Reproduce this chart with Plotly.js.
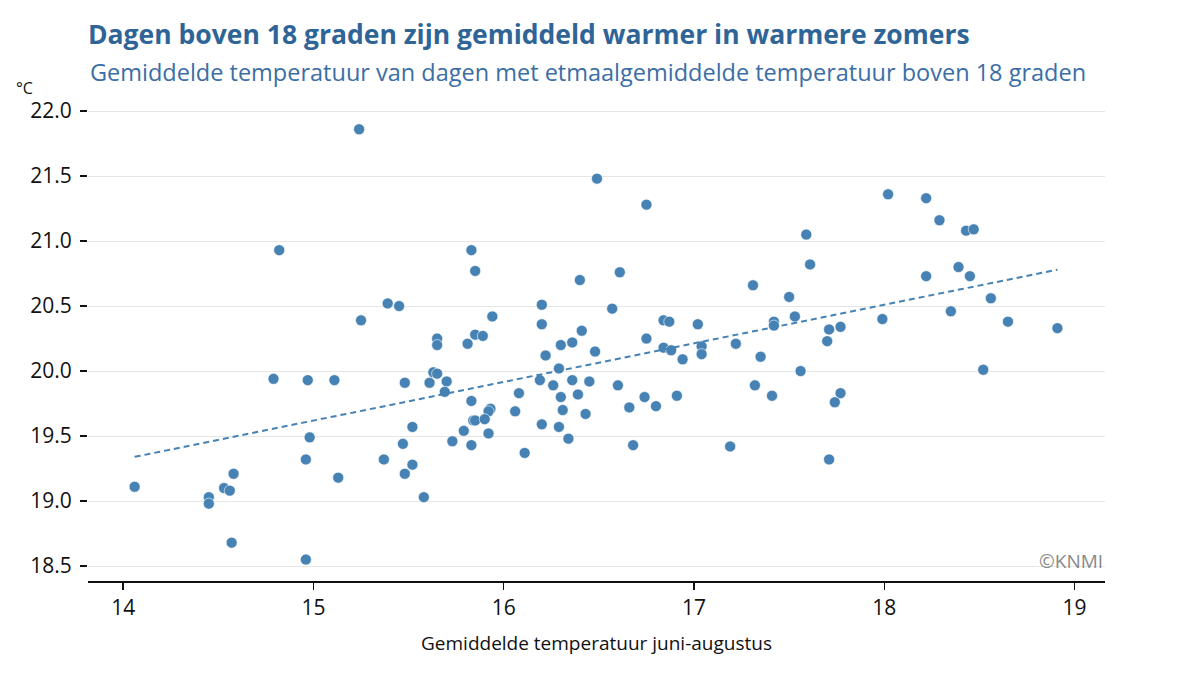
<!DOCTYPE html>
<html>
<head>
<meta charset="utf-8">
<script src="https://cdn.plot.ly/plotly-3.0.1.min.js"></script>
<style>
  html, body { margin: 0; padding: 0; background: #fff; }
  #chart { width: 1200px; height: 675px; }
</style>
</head>
<body>
<div id="chart"></div>
<script>
// gemiddelde temperatuur juni-augustus (x) en gemiddelde temperatuur van dagen boven 18 graden (y)
var zomerTemp = [
  14.06, 14.45, 14.45, 14.53, 14.56, 14.58, 14.57, 14.82, 14.79, 14.97,
  14.98, 14.96, 14.96, 15.11, 15.13, 15.25, 15.24, 15.83, 15.85, 15.39,
  15.45, 15.94, 15.65, 15.65, 15.81, 15.85, 15.89, 15.48, 15.61, 15.63,
  15.65, 15.70, 15.69, 15.83, 15.93, 15.92, 15.84, 15.85, 15.90, 16.06,
  16.08, 15.52, 15.47, 15.37, 15.52, 15.48, 15.73, 15.79, 15.83, 15.92,
  16.11, 15.58, 16.20, 16.20, 16.40, 16.57, 16.41, 16.30, 16.36, 16.48,
  16.22, 16.29, 16.19, 16.26, 16.36, 16.45, 16.60, 16.30, 16.39, 16.31,
  16.43, 16.20, 16.29, 16.34, 16.49, 16.61, 16.75, 17.59, 17.61, 17.31,
  17.50, 16.84, 16.87, 17.02, 17.42, 17.42, 17.53, 17.71, 17.77, 17.70,
  16.75, 16.84, 16.88, 16.94, 17.04, 17.04, 17.22, 17.35, 17.56, 16.74,
  16.66, 16.80, 16.91, 17.32, 17.41, 17.77, 17.74, 16.68, 17.19, 17.71,
  18.02, 18.22, 18.29, 18.43, 18.47, 18.22, 18.39, 18.45, 18.56, 18.35,
  17.99, 18.65, 18.91, 18.52
];
var dagTemp = [
  19.11, 19.03, 18.98, 19.10, 19.08, 19.21, 18.68, 20.93, 19.94, 19.93,
  19.49, 19.32, 18.55, 19.93, 19.18, 20.39, 21.86, 20.93, 20.77, 20.52,
  20.50, 20.42, 20.25, 20.20, 20.21, 20.28, 20.27, 19.91, 19.91, 19.99,
  19.98, 19.92, 19.84, 19.77, 19.71, 19.69, 19.62, 19.62, 19.63, 19.69,
  19.83, 19.57, 19.44, 19.32, 19.28, 19.21, 19.46, 19.54, 19.43, 19.52,
  19.37, 19.03, 20.51, 20.36, 20.70, 20.48, 20.31, 20.20, 20.22, 20.15,
  20.12, 20.02, 19.93, 19.89, 19.93, 19.92, 19.89, 19.80, 19.82, 19.70,
  19.67, 19.59, 19.57, 19.48, 21.48, 20.76, 21.28, 21.05, 20.82, 20.66,
  20.57, 20.39, 20.38, 20.36, 20.38, 20.35, 20.42, 20.32, 20.34, 20.23,
  20.25, 20.18, 20.16, 20.09, 20.19, 20.13, 20.21, 20.11, 20.00, 19.80,
  19.72, 19.73, 19.81, 19.89, 19.81, 19.83, 19.76, 19.43, 19.42, 19.32,
  21.36, 21.33, 21.16, 21.08, 21.09, 20.73, 20.80, 20.73, 20.56, 20.46,
  20.40, 20.38, 20.33, 20.01
];
var trendX = [14.06, 18.91];
var trendY = [19.34, 20.78];

var yTicks = [18.5, 19.0, 19.5, 20.0, 20.5, 21.0, 21.5, 22.0];
var yTickText = ['18.5', '19.0', '19.5', '20.0', '20.5', '21.0', '21.5', '22.0'];
var xTicks = [14, 15, 16, 17, 18, 19];

var blauw = '#4682b4';
var font = 'Open Sans, sans-serif';

var data = [
  {
    x: zomerTemp,
    y: dagTemp,
    type: 'scatter',
    mode: 'markers',
    marker: {size: 11, color: blauw, line: {color: '#ffffff', width: 0.6}},
    hoverinfo: 'x+y'
  },
  {
    x: trendX,
    y: trendY,
    type: 'scatter',
    mode: 'lines',
    line: {color: blauw, width: 2, dash: '6px,4px'},
    hoverinfo: 'skip'
  }
];

var layout = {
  width: 1200,
  height: 675,
  showlegend: false,
  paper_bgcolor: '#ffffff',
  plot_bgcolor: '#ffffff',
  font: {family: font, color: '#111111'},
  margin: {t: 100, b: 94, l: 88, r: 95},
  title: {
    text: '<b>Dagen boven 18 graden zijn gemiddeld warmer in warmere zomers</b>',
    font: {family: font, size: 26.5, color: '#2f6497'},
    xref: 'container',
    yref: 'container',
    x: 88 / 1200,
    xanchor: 'left',
    y: 1 - 35 / 675,
    yanchor: 'middle'
  },
  xaxis: {
    range: [13.815, 19.16],
    tickvals: xTicks,
    ticktext: xTicks.map(String),
    showgrid: false,
    zeroline: false,
    showline: true,
    linecolor: '#111111',
    linewidth: 2,
    ticks: 'outside',
    ticklen: 7,
    tickwidth: 1.5,
    tickcolor: '#111111',
    tickfont: {family: font, size: 21, color: '#111111'},
    title: {
      text: 'Gemiddelde temperatuur juni-augustus',
      font: {family: font, size: 19, color: '#111111'},
      standoff: 16
    }
  },
  yaxis: {
    range: [18.385, 22.085],
    tickvals: yTicks,
    ticktext: yTickText,
    showgrid: true,
    gridcolor: '#e6e6e6',
    gridwidth: 1,
    zeroline: false,
    showline: false,
    ticks: 'outside',
    ticklen: 7,
    tickwidth: 1.5,
    tickcolor: '#111111',
    ticklabelstandoff: 4,
    tickfont: {family: font, size: 21, color: '#111111'}
  },
  annotations: [
    {
      text: 'Gemiddelde temperatuur van dagen met etmaalgemiddelde temperatuur boven 18 graden',
      xref: 'paper', yref: 'paper',
      x: 0, y: (581 - 72) / 481,
      xanchor: 'left', yanchor: 'middle',
      showarrow: false,
      font: {family: font, size: 23.5, color: '#3a6ea5'}
    },
    {
      text: '°C',
      xref: 'paper', yref: 'paper',
      x: (24 - 88) / 1017, y: (581 - 88) / 481,
      xanchor: 'center', yanchor: 'middle',
      showarrow: false,
      font: {family: font, size: 16, color: '#111111'}
    },
    {
      text: '©KNMI',
      xref: 'paper', yref: 'paper',
      x: 1, y: (581 - 561) / 481,
      xanchor: 'right', yanchor: 'middle',
      showarrow: false,
      font: {family: font, size: 19, color: '#8a8a8a'}
    }
  ]
};

Plotly.newPlot('chart', data, layout, {displayModeBar: false, staticPlot: true});
</script>
</body>
</html>
